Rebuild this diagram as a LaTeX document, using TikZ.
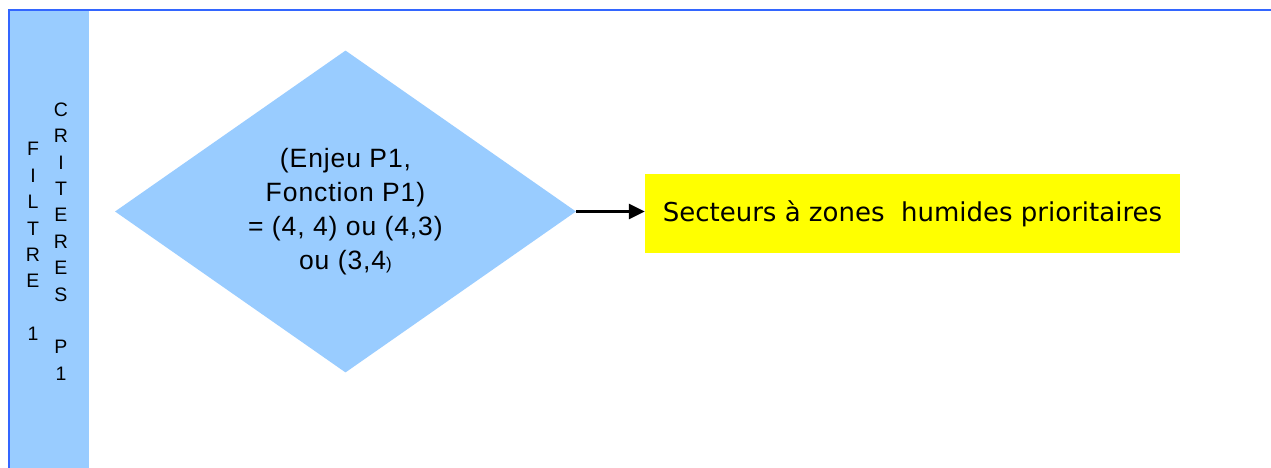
\documentclass[tikz,border=0pt]{standalone}
\usepackage{fontspec}
\setmainfont{Liberation Sans}
\newfontfamily\condfont[LetterSpace=3.5]{Liberation Sans}
\newfontfamily\boxfont{DejaVu Sans}
\usetikzlibrary{arrows.meta,shapes.geometric}

\definecolor{bandblue}{HTML}{99CCFF}
\definecolor{lineblue}{HTML}{3366FF}
\definecolor{resyellow}{HTML}{FFFF00}

\begin{document}
\begin{tikzpicture}[
    x=1pt, y=-1pt,
    >={Triangle[length=16pt,width=15pt]},
    band/.style={
        rectangle, fill=bandblue, draw=none,
        minimum width=79pt, minimum height=457pt, inner sep=0pt
    },
    letters/.style={
        align=center, inner sep=0pt,
        font=\fontsize{19.5}{26.4}\selectfont
    },
    cond/.style={
        diamond, fill=bandblue, draw=none, aspect=1.43,
        minimum width=461pt, minimum height=322pt, inner sep=0pt,
        align=center, font=\condfont\fontsize{26.5}{34}\selectfont
    },
    res/.style={
        rectangle, fill=resyellow, draw=none,
        minimum width=535pt, minimum height=79pt, inner sep=0pt,
        font=\boxfont\fontsize{26}{30}\selectfont
    },
    arr/.style={->, line width=3pt, black}
]

    \useasboundingbox[fill=white] (0,0) rectangle (1271,468);

    % left band with the vertical labels
    \node[band] (B) at (49.5,239.5) {};
    \node[letters] (F1) at (33,241.5) {F\\I\\L\\T\\R\\E\\~\\1};
    \node[letters] (C1) at (61,241.5) {C\\R\\I\\T\\E\\R\\E\\S\\~\\P\\1};

    % frame
    \draw[lineblue, line width=2pt] (1271,10) -- (9,10) -- (9,468);

    % test and result
    \node[cond] (T) at (345.5,211.5)
        {(Enjeu P1,\\Fonction P1)\\= (4, 4) ou (4,3)\\ou (3,4{\fontsize{17}{17}\selectfont)}};
    \node[res] (S) at (912.5,213.5) {Secteurs à zones\ \ humides prioritaires};

    % Edges
    \draw[arr] (T.east) -- (T.east -| S.west);

\end{tikzpicture}
\end{document}
